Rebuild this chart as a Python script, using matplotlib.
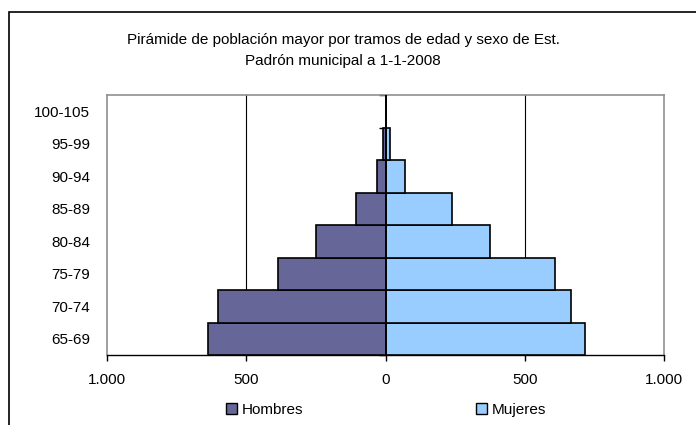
import matplotlib
matplotlib.use("Agg")
import matplotlib.pyplot as plt
import matplotlib.patches as mpatches
import numpy as np

plt.rcParams['font.family'] = ['Liberation Sans', 'DejaVu Sans']

categories = ["65-69", "70-74", "75-79", "80-84", "85-89", "90-94", "95-99", "100-105"]
hombres = [636, 600, 385, 249, 107, 29, 10, 0]
mujeres = [716, 665, 607, 375, 239, 71, 15, 0]
xticks = [-1000, -500, 0, 500, 1000]
xticklabels = ["1.000", "500", "0", "500", "1.000"]

c_h = "#666699"
c_m = "#99CCFF"
FS = 11

fig = plt.figure(figsize=(6.96, 4.25), dpi=100)
ax = fig.add_axes([107/696, 1-355/425, (664-107)/696, (355-95)/425])

y = np.arange(len(categories))
ax.barh(y, [-v for v in hombres], height=1.0, color=c_h, edgecolor="black", linewidth=1.2, zorder=3, label="Hombres")
ax.barh(y, mujeres, height=1.0, color=c_m, edgecolor="black", linewidth=1.2, zorder=3, label="Mujeres")

ax.set_xlim(-1000, 1000)
ax.set_ylim(-0.5, len(categories) - 0.5)
ax.set_xticks(xticks)
ax.set_xticklabels(xticklabels, fontsize=FS)
ax.set_yticks(y)
ax.set_yticklabels(categories, fontsize=FS)
ax.tick_params(axis='y', length=0, pad=12)
ax.tick_params(axis='x', length=4, width=1, color="black", pad=9)

for v in [-500, 500]:
    ax.axvline(v, color="black", linewidth=0.8, zorder=1)
ax.axvline(0, color="black", linewidth=1.2, zorder=4)

sec = ax.secondary_yaxis(0.5)
sec.set_yticks(np.arange(-0.5, len(categories), 1.0))
sec.set_yticklabels([])
sec.tick_params(axis='y', length=5, width=1, direction='in', color='black')
sec.spines['left'].set_visible(False)
sec.spines['right'].set_visible(False)

for s in ['top', 'left', 'right']:
    ax.spines[s].set_color("#909090")
    ax.spines[s].set_linewidth(1.2)
ax.spines['bottom'].set_color("black")
ax.spines['bottom'].set_linewidth(1.0)

fig.text(343/696, 1-40/425, "Pirámide de población mayor por tramos de edad y sexo de Est.",
         ha="center", va="center", fontsize=FS)
fig.text(343/696, 1-61/425, "Padrón municipal a 1-1-2008", ha="center", va="center", fontsize=FS)

frame = mpatches.Rectangle((9/696, -0.1), 1.2, 1 - 12/425 + 0.1, transform=fig.transFigure,
                           fill=False, edgecolor="black", linewidth=1.2)
fig.patches.append(frame)

h1 = mpatches.Patch(facecolor=c_h, edgecolor="black", label="Hombres")
h2 = mpatches.Patch(facecolor=c_m, edgecolor="black", label="Mujeres")
for h, xpos in [(h1, 226/696), (h2, 476/696)]:
    fig.legend(handles=[h], loc="center left", bbox_to_anchor=(xpos, 1-410/425), frameon=False,
               fontsize=FS, handlelength=0.75, handleheight=0.75, handletextpad=0.3, borderpad=0,
               borderaxespad=0)

fig.savefig("out.png", dpi=100)
